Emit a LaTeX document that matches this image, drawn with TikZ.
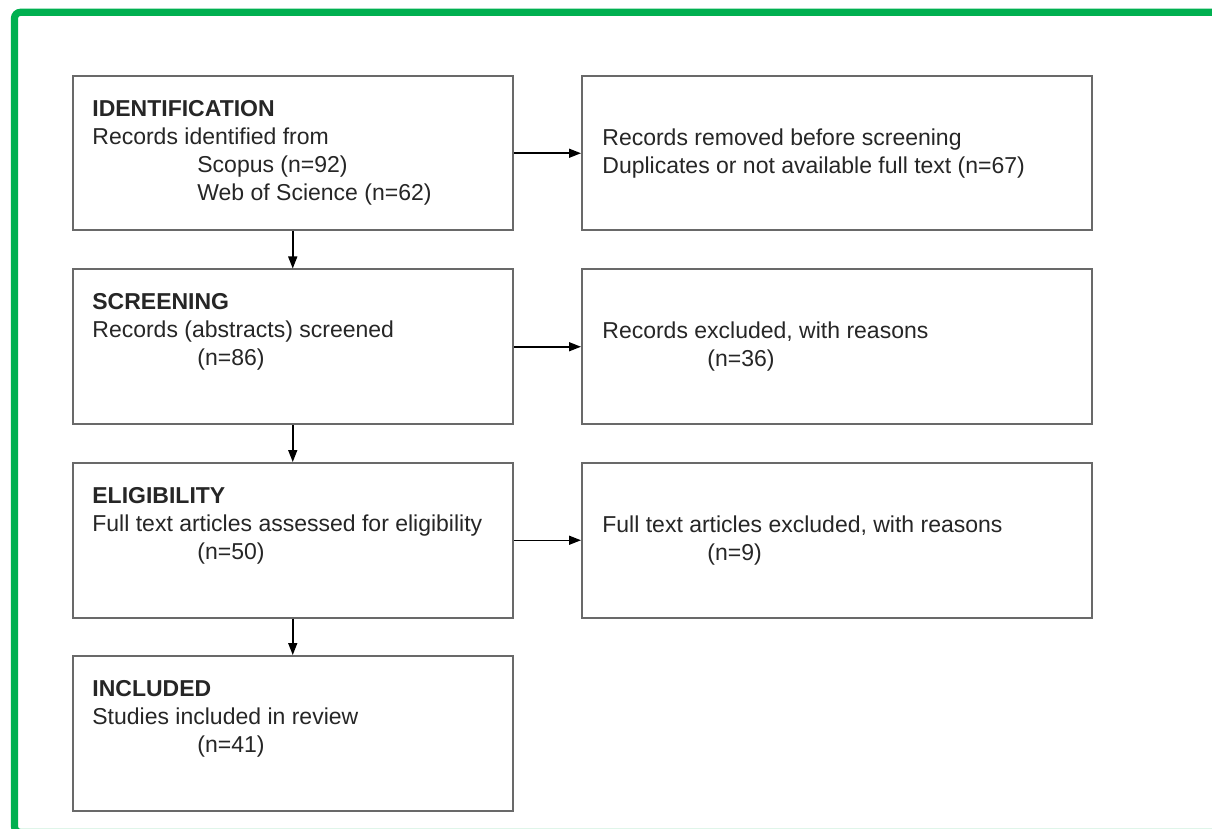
\documentclass[tikz,border=0pt]{standalone}
\usepackage{fontspec}
\setmainfont{Liberation Sans}
\usepackage{xcolor}
\usetikzlibrary{arrows.meta, positioning}
\definecolor{kadergroen}{RGB}{0,176,80}
\definecolor{randgrijs}{RGB}{105,105,105}
\newcommand{\inspring}{\hspace*{52.5pt}}

\begin{document}
\begin{tikzpicture}[
    x=0.5pt, y=-0.5pt,
    stage/.style={rectangle, draw=randgrijs, line width=1pt, minimum width=220.25pt, minimum height=77.25pt, inner sep=0pt},
    side/.style={stage, minimum width=254.75pt},
    box text/.style={anchor=north west, align=left, inner sep=0pt, font=\fontsize{11.5pt}{13.85pt}\selectfont, text=black!85},
    arrow/.style={-{Triangle[length=6pt, width=4.5pt]}, line width=0.75pt, color=black}
]
\clip (0,0) rectangle (1212,829);
\fill[white] (0,0) rectangle (1212,829);

% Kader
\draw[kadergroen, line width=3.6pt, rounded corners=3pt] (14.5,12.3) rectangle (1240,832.5);

% Vakken
\node[stage] (ident) at (292.75,153.25) {};
\node[stage] (scr)   at (292.75,346.75) {};
\node[stage] (elig)  at (292.75,540.25) {};
\node[stage] (incl)  at (292.75,733.25) {};

\node[side] (removed)  at (836.75,153.25) {};
\node[side] (excluded) at (836.75,346.75) {};
\node[side] (fulltext) at (836.75,540.25) {};

% Teksten
\node[box text] (identtext) at (92,100.5) {\textbf{IDENTIFICATION}\\Records identified from\\\inspring Scopus (n=92)\\\inspring Web of Science (n=62)};
\node[box text] (scrtext)   at (92,293.5) {\textbf{SCREENING}\\Records (abstracts) screened\\\inspring (n=86)};
\node[box text] (eligtext)  at (92,487.5) {\textbf{ELIGIBILITY}\\Full text articles assessed for eligibility\\\inspring (n=50)};
\node[box text] (incltext)  at (92,680.5) {\textbf{INCLUDED}\\Studies included in review\\\inspring (n=41)};

\node[box text] (removedtext)  at (602,128.5) {Records removed before screening\\Duplicates or not available full text (n=67)};
\node[box text] (excludedtext) at (602,321.5) {Records excluded, with reasons\\\inspring (n=36)};
\node[box text] (fulltexttext) at (602,515.5) {Full text articles excluded, with reasons\\\inspring (n=9)};

% Pijlen
\foreach \a/\b in {ident/scr, scr/elig, elig/incl} {
    \draw[arrow] (\a.south) -- (\b.north);
}
\foreach \a/\b in {ident/removed, scr/excluded, elig/fulltext} {
    \draw[arrow] (\a.east) -- (\b.west);
}

\end{tikzpicture}
\end{document}
